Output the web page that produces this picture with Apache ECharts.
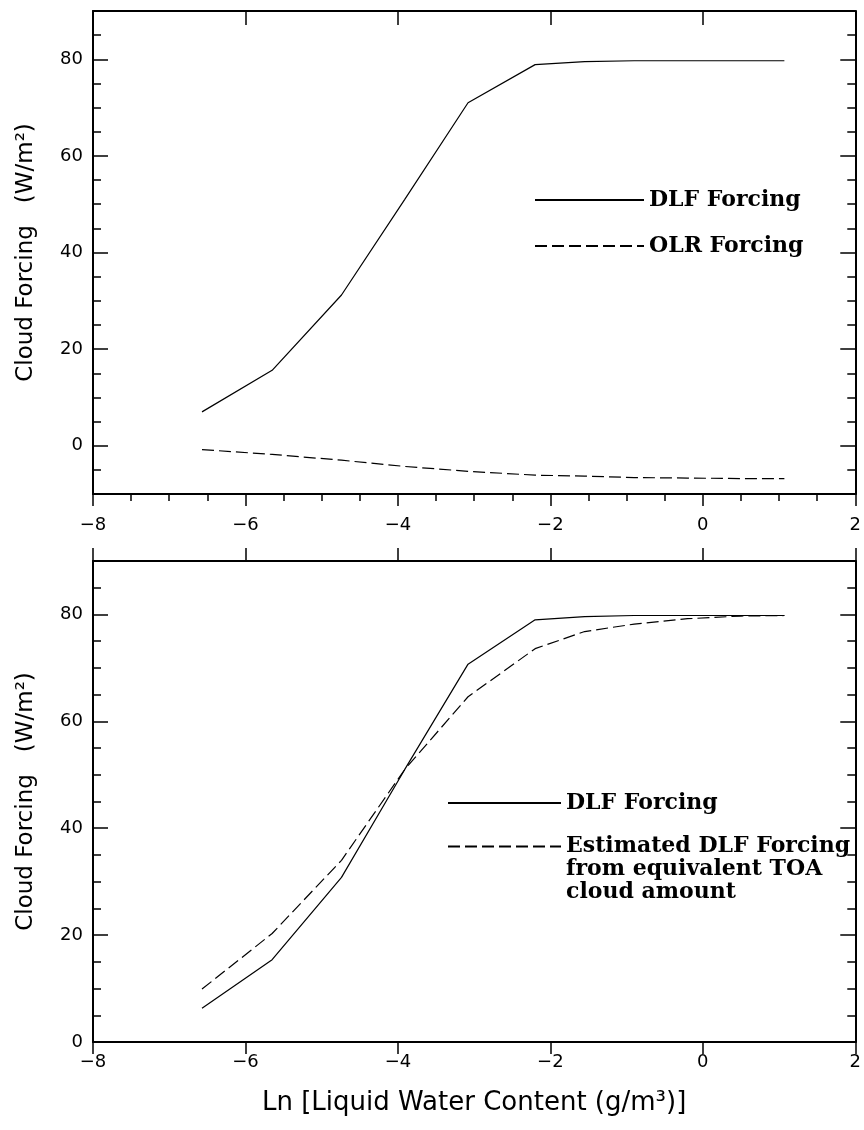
<!DOCTYPE html>
<html>
<head>
<meta charset="utf-8">
<title>Cloud Forcing vs Liquid Water Content</title>
<script src="https://cdn.jsdelivr.net/npm/echarts@6/dist/echarts.min.js"></script>
<style>
body { margin: 0; background: #fff; }
#main { width: 864px; height: 1130px; }
</style>
</head>
<body>
<div id="main"></div>
<script>
// x positions: Ln of liquid water content
var lnLwc = [-6.57, -5.65, -4.74, -3.91, -3.08, -2.2, -1.55, -0.9, -0.2, 0.5, 1.07];

// upper panel
var dlfUpper = [7.0, 15.6, 31.2, 51.0, 71.0, 78.9, 79.5, 79.7, 79.7, 79.7, 79.7];
var olrUpper = [-0.8, -1.8, -3.0, -4.3, -5.3, -6.1, -6.3, -6.6, -6.7, -6.8, -6.8];

// lower panel
var dlfLower = [6.3, 15.4, 30.8, 51.0, 70.7, 79.0, 79.6, 79.8, 79.8, 79.8, 79.8];
var estLower = [9.9, 20.3, 34.0, 51.0, 64.6, 73.6, 76.8, 78.2, 79.2, 79.7, 79.8];

// labelled ticks on the y axes
var yTicks = [0, 20, 40, 60, 80];

function pairs(ys) {
    return lnLwc.map(function (x, i) { return [x, ys[i]]; });
}
function minus(v) {
    return v < 0 ? '\u2212' + (-v) : String(v);
}

var black = '#000';
var chartDom = document.getElementById('main');
var myChart = echarts.init(chartDom);
var option;

var tickLabel = { fontFamily: 'DejaVu Sans', fontSize: 18, color: black };
var legendText = { fontFamily: 'DejaVu Serif', fontWeight: 'bold', fontSize: 22, color: black };
var axisLine = { show: true, onZero: false, lineStyle: { color: black, width: 2 } };
var tickLine = { color: black, width: 1.5 };

// bottom / top x axes of one panel
function xPair(g, minor, labelMargin, topInside, topLen, name) {
    return [
        {
            type: 'value', gridIndex: g, position: 'bottom',
            min: -8, max: 2, interval: 2,
            axisLine: axisLine,
            axisTick: { show: true, inside: false, length: 12, lineStyle: tickLine },
            minorTick: { show: minor, splitNumber: 4, length: 7, lineStyle: tickLine },
            axisLabel: Object.assign({ margin: labelMargin, formatter: minus }, tickLabel),
            splitLine: { show: false },
            name: name || '',
            nameLocation: 'middle',
            nameGap: 48,
            nameTextStyle: { fontFamily: 'DejaVu Sans', fontSize: 26, color: black }
        },
        {
            type: 'value', gridIndex: g, position: 'top',
            min: -8, max: 2, interval: 2,
            axisLine: axisLine,
            axisTick: { show: true, inside: topInside, length: topLen, lineStyle: tickLine },
            axisLabel: { show: false },
            splitLine: { show: false }
        }
    ];
}

// left and right y axes (long labelled ticks + short ticks every 5)
function yAxes(g, min) {
    var list = [];
    ['left', 'right'].forEach(function (side) {
        list.push({
            type: 'value', gridIndex: g, position: side,
            min: min, max: 90, interval: 10,
            axisLine: axisLine,
            axisTick: { show: true, inside: true, length: 15, customValues: yTicks, lineStyle: tickLine },
            axisLabel: side === 'left'
                ? Object.assign({ margin: 10, customValues: yTicks }, tickLabel)
                : { show: false },
            splitLine: { show: false },
            name: side === 'left' ? 'Cloud Forcing   (W/m\u00b2)' : '',
            nameLocation: 'middle',
            nameRotate: 90,
            nameGap: 55,
            nameTextStyle: { fontFamily: 'DejaVu Sans', fontSize: 23, color: black }
        });
        list.push({
            type: 'value', gridIndex: g, position: side,
            min: min, max: 90, interval: 5,
            axisLine: { show: false, onZero: false },
            axisTick: { show: true, inside: true, length: 8, lineStyle: tickLine },
            axisLabel: { show: false },
            splitLine: { show: false }
        });
    });
    return list;
}

function lineSeries(name, xi, yi, ys, dashed) {
    return {
        name: name,
        type: 'line',
        xAxisIndex: xi,
        yAxisIndex: yi,
        data: pairs(ys),
        symbol: 'none',
        silent: true,
        clip: false,
        itemStyle: { color: black },
        lineStyle: { color: black, width: 1.2, type: dashed ? [12, 5] : 'solid' }
    };
}

function legendItem(name, left, top, width, lineHeight, text) {
    return {
        data: [name],
        left: left,
        top: top,
        padding: 0,
        itemWidth: width,
        itemHeight: 10,
        selectedMode: false,
        itemStyle: { color: 'rgba(0,0,0,0)', borderWidth: 0, opacity: 0 },
        formatter: text ? function () { return text; } : '{name}',
        textStyle: Object.assign({ lineHeight: lineHeight }, legendText)
    };
}

option = {
    animation: false,
    backgroundColor: '#fff',
    grid: [
        { left: 93, top: 11, width: 764, height: 483 },
        { left: 93, top: 561, width: 764, height: 481 }
    ],
    xAxis: xPair(0, true, 22, true, 14).concat(
        xPair(1, false, 11, false, 13, 'Ln [Liquid Water Content (g/m\u00b3)]')),
    yAxis: yAxes(0, -10).concat(yAxes(1, 0)),
    legend: [
        legendItem('DLF Forcing', 534, 188, 109, 24),
        legendItem('OLR Forcing', 534, 234, 109, 24),
        legendItem('DLF Forcing', 447, 791.5, 113, 23),
        legendItem('Estimated DLF Forcing', 447, 789, 113, 23,
            '\n\nEstimated DLF Forcing\nfrom equivalent TOA\ncloud amount')
    ],
    series: [
        lineSeries('DLF Forcing', 0, 0, dlfUpper, false),
        lineSeries('OLR Forcing', 0, 0, olrUpper, true),
        lineSeries('DLF Forcing', 2, 4, dlfLower, false),
        lineSeries('Estimated DLF Forcing', 2, 4, estLower, true)
    ]
};

option && myChart.setOption(option);
</script>
</body>
</html>
